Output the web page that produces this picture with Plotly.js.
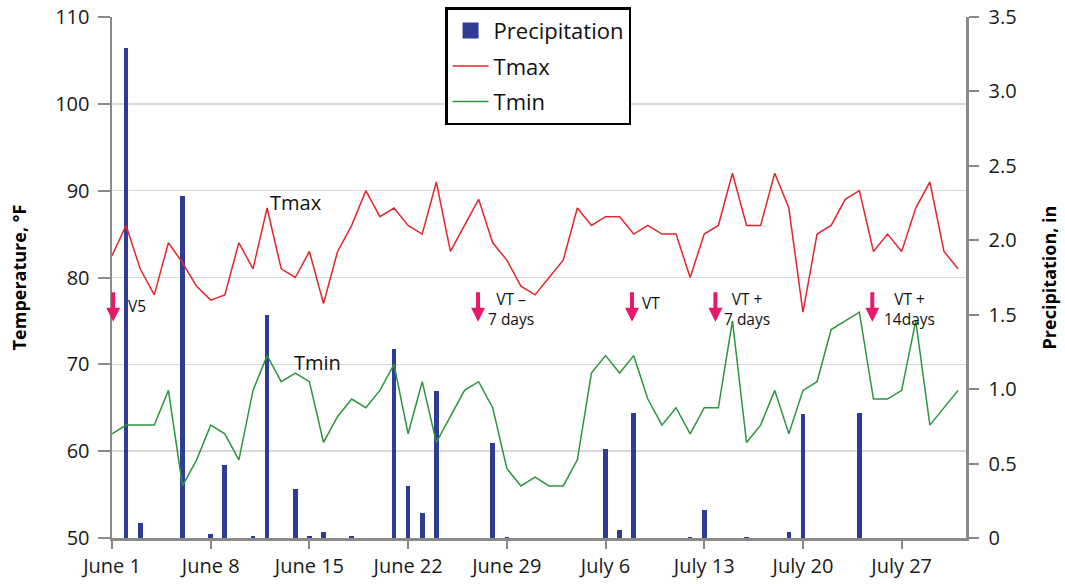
<!DOCTYPE html>
<html>
<head>
<meta charset="utf-8">
<script src="https://cdn.plot.ly/plotly-3.0.1.min.js"></script>
<style>
html,body{margin:0;padding:0;background:#fff;}
#chart{width:1065px;height:584px;}
</style>
</head>
<body>
<div id="chart"></div>
<script>
const dates = [
 '2024-06-01','2024-06-02','2024-06-03','2024-06-04','2024-06-05','2024-06-06','2024-06-07','2024-06-08','2024-06-09','2024-06-10',
 '2024-06-11','2024-06-12','2024-06-13','2024-06-14','2024-06-15','2024-06-16','2024-06-17','2024-06-18','2024-06-19','2024-06-20',
 '2024-06-21','2024-06-22','2024-06-23','2024-06-24','2024-06-25','2024-06-26','2024-06-27','2024-06-28','2024-06-29','2024-06-30',
 '2024-07-01','2024-07-02','2024-07-03','2024-07-04','2024-07-05','2024-07-06','2024-07-07','2024-07-08','2024-07-09','2024-07-10',
 '2024-07-11','2024-07-12','2024-07-13','2024-07-14','2024-07-15','2024-07-16','2024-07-17','2024-07-18','2024-07-19','2024-07-20',
 '2024-07-21','2024-07-22','2024-07-23','2024-07-24','2024-07-25','2024-07-26','2024-07-27','2024-07-28','2024-07-29','2024-07-30',
 '2024-07-31'
];
const tmax = [
 82.5,86,81,78,84,81.7,79,77.4,78,84,
 81,88,81,80,83,77,83,86,90,87,
 88,86,85,91,83,86,89,84,82,79,
 78,80,82,88,86,87,87,85,86,85,
 85,80,85,86,92,86,86,92,88,76,
 85,86,89,90,83,85,83,88,91,83,
 81
];
const tmin = [
 62,63,63,63,67,56,59,63,62,59,
 67,71,68,69,68,61,64,66,65,67,
 70,62,68,61,64,67,68,65,58,56,
 57,56,56,59,69,71,69,71,66,63,
 65,62,65,65,75,61,63,67,62,67,
 68,74,75,76,66,66,67,75,63,65,
 67
];
const precipDates = [
 '2024-06-02','2024-06-03','2024-06-06','2024-06-08','2024-06-09','2024-06-11','2024-06-12','2024-06-14','2024-06-15','2024-06-16',
 '2024-06-18','2024-06-21','2024-06-22','2024-06-23','2024-06-24','2024-06-28','2024-06-29','2024-07-06','2024-07-07','2024-07-08',
 '2024-07-12','2024-07-13','2024-07-16','2024-07-19','2024-07-20','2024-07-24'
];
const precip = [
 3.29,0.1,2.3,0.03,0.49,0.015,1.5,0.33,0.015,0.04,
 0.015,1.27,0.35,0.17,0.99,0.64,0.005,0.6,0.054,0.84,
 0.005,0.19,0.005,0.04,0.83,0.84
];
const xTicks = ['2024-06-01','2024-06-08','2024-06-15','2024-06-22','2024-06-29','2024-07-06','2024-07-13','2024-07-20','2024-07-27'];
const xTickText = ['June 1','June 8','June 15','June 22','June 29','July 6','July 13','July 20','July 27'];
const tempTicks = [50,60,70,80,90,100,110];
const precipTicks = [0,0.5,1.0,1.5,2.0,2.5,3.0,3.5];
const precipTickText = ['0','0.5','1.0','1.5','2.0','2.5','3.0','3.5'];
const stages = [
 {x:'2024-06-01 02:00', label:'V5', lx:'2024-06-02 18:00', ly:76.7},
 {x:'2024-06-26 23:00', label:'VT \u2013<br>7 days', lx:'2024-06-29 07:00', ly:76.4},
 {x:'2024-07-07 21:00', label:'VT', lx:'2024-07-09 05:00', ly:77.1},
 {x:'2024-07-13 19:00', label:'VT +<br>7 days', lx:'2024-07-16 01:00', ly:76.4},
 {x:'2024-07-24 22:00', label:'VT +<br>14days', lx:'2024-07-27 12:30', ly:76.4}
];

const FONT = 'Open Sans, Noto Sans, sans-serif';
const traces = [
 {type:'bar', name:'Precipitation', x:precipDates, y:precip, yaxis:'y', showlegend:false,
  marker:{color:'#2E3C97', line:{width:0}}, width:0.33*86400000},
 {type:'scatter', mode:'markers', name:'Precipitation', x:[null], y:[null], yaxis:'y',
  marker:{symbol:'square', size:16, color:'#2E3C97'}, legendgroup:'p'},
 {type:'scatter', mode:'lines', name:'Tmax', x:dates, y:tmax, yaxis:'y2', legendgroup:'a',
  line:{color:'#E3262B', width:1.5}},
 {type:'scatter', mode:'lines', name:'Tmin', x:dates, y:tmin, yaxis:'y2', legendgroup:'b',
  line:{color:'#2B963C', width:1.5}}
];

const annotations = [];
stages.forEach(s => {
  annotations.push({x:s.x, y:74.9, xref:'x', yref:'y2', text:'', showarrow:true,
    arrowhead:2, arrowsize:0.7, arrowwidth:4, arrowcolor:'#E8186A', ax:0, ay:-31});
  annotations.push({x:s.lx, y:s.ly, xref:'x', yref:'y2', text:s.label, showarrow:false,
    font:{family:FONT, size:15.5, color:'#111'}, align:'center'});
});
annotations.push({x:'2024-06-14 02:00', y:88.6, xref:'x', yref:'y2', text:'Tmax', showarrow:false,
  font:{family:FONT, size:20, color:'#111'}});
annotations.push({x:'2024-06-15 14:00', y:70.2, xref:'x', yref:'y2', text:'Tmin', showarrow:false,
  font:{family:FONT, size:20, color:'#111'}});

const layout = {
  width:1065, height:584,
  margin:{l:112, r:99, t:17, b:46, autoexpand:false},
  paper_bgcolor:'#fff', plot_bgcolor:'#fff',
  font:{family:FONT, color:'#1a1a1a'},
  showlegend:true,
  legend:{x:0.39, y:1.019, xanchor:'left', yanchor:'top', bgcolor:'#fff',
    bordercolor:'#000', borderwidth:2.5, font:{family:FONT, size:22, color:'#111'},
    traceorder:'grouped', tracegroupgap:4, itemwidth:36},
  bargap:0,
  xaxis:{type:'date', range:['2024-06-01 00:00','2024-07-31 13:30'],
    tickvals:xTicks, ticktext:xTickText, ticks:'outside', ticklen:8, tickwidth:2,
    tickcolor:'#8a8a8a', showline:true, linecolor:'#8a8a8a', linewidth:2.5,
    showgrid:false, zeroline:false, tickfont:{family:FONT, size:20, color:'#1a1a1a'}},
  yaxis:{range:[0,3.5], side:'right', tickvals:precipTicks, ticktext:precipTickText,
    ticks:'outside', ticklen:10, tickwidth:2, tickcolor:'#8a8a8a', showline:true,
    linecolor:'#8a8a8a', linewidth:2.5, showgrid:false, zeroline:false,
    tickfont:{family:FONT, size:20, color:'#1a1a1a'}, ticklabelstandoff:6,
    title:{text:'<b>Precipitation, in</b>', font:{family:FONT, size:18, color:'#000'}, standoff:28}},
  yaxis2:{range:[50,110], side:'left', overlaying:'y', tickvals:tempTicks,
    ticks:'outside', ticklen:12, tickwidth:2, tickcolor:'#8a8a8a', showline:true,
    linecolor:'#8a8a8a', linewidth:2.5, showgrid:true, gridcolor:'#d9d9d9', gridwidth:1.5,
    zeroline:false, tickfont:{family:FONT, size:20, color:'#1a1a1a'}, ticklabelstandoff:4,
    title:{text:'<b>Temperature, \u00B0F</b>', font:{family:FONT, size:18, color:'#000'}, standoff:24}},
  annotations:annotations
};
Plotly.newPlot('chart', traces, layout, {displayModeBar:false, staticPlot:true});
</script>
</body>
</html>
